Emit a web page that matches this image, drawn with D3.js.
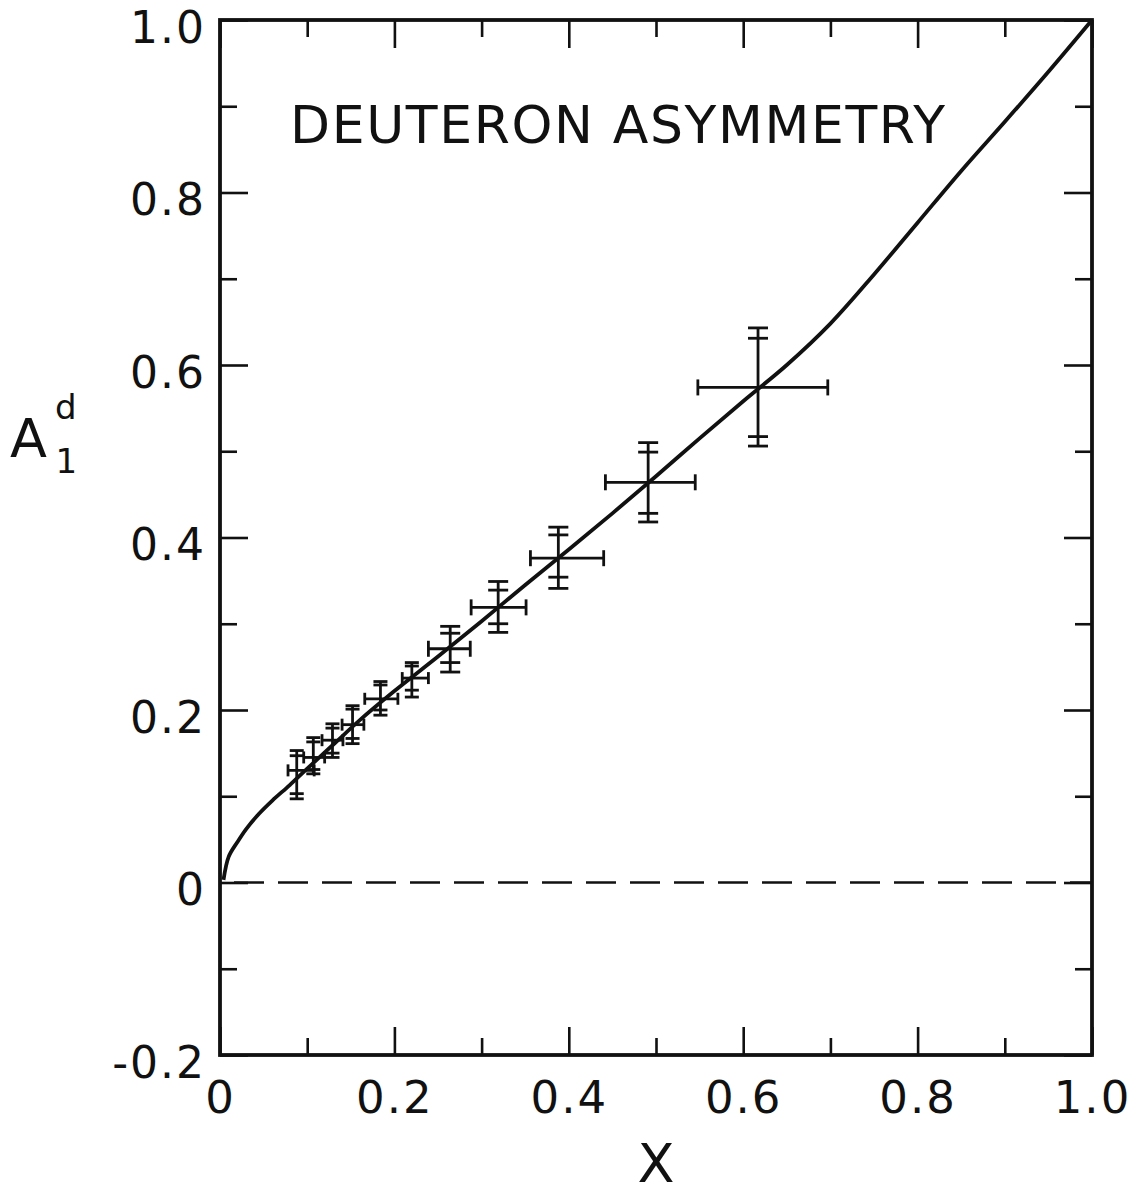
<!DOCTYPE html>
<html>
<head>
<meta charset="utf-8">
<script src="https://cdn.jsdelivr.net/npm/d3@7"></script>
<style>
  body { margin: 0; background: #fff; }
  svg { display: block; }
  text { font-family: "DejaVu Sans", sans-serif; fill: #111; }
</style>
</head>
<body>
<svg></svg>
<script>
// data points (x, A1d) with x error range and inner/outer y error ranges
const xs    = [0.088, 0.107, 0.129, 0.152, 0.184, 0.220, 0.264, 0.319, 0.388, 0.491, 0.617];
const ys    = [0.130, 0.145, 0.165, 0.183, 0.213, 0.237, 0.271, 0.319, 0.376, 0.464, 0.574];
const xLo   = [0.078, 0.096, 0.117, 0.140, 0.166, 0.209, 0.239, 0.288, 0.356, 0.442, 0.548];
const xHi   = [0.108, 0.120, 0.141, 0.165, 0.204, 0.239, 0.287, 0.351, 0.440, 0.545, 0.697];
const yInLo = [0.103, 0.131, 0.150, 0.167, 0.200, 0.223, 0.255, 0.300, 0.354, 0.428, 0.517];
const yInHi = [0.147, 0.163, 0.179, 0.201, 0.229, 0.251, 0.289, 0.339, 0.403, 0.499, 0.631];
const yOutLo = [0.097, 0.126, 0.145, 0.161, 0.194, 0.215, 0.244, 0.290, 0.341, 0.418, 0.506];
const yOutHi = [0.153, 0.168, 0.184, 0.205, 0.233, 0.255, 0.297, 0.349, 0.412, 0.510, 0.643];

// theory curve
const curveX = [0.004, 0.01, 0.02, 0.03, 0.045, 0.06, 0.08, 0.1, 0.13, 0.16, 0.2, 0.25, 0.3, 0.35, 0.4,
                0.45, 0.5, 0.55, 0.6, 0.65, 0.7, 0.75, 0.8, 0.85, 0.9, 0.95, 1.0];
const curveY = [0.003, 0.030, 0.047, 0.062, 0.080, 0.095, 0.113, 0.132, 0.160, 0.188, 0.222, 0.262, 0.303,
                0.345, 0.386, 0.428, 0.471, 0.515, 0.558, 0.600, 0.648, 0.705, 0.765, 0.825, 0.882, 0.940, 1.0];

const xMajor = [0, 0.2, 0.4, 0.6, 0.8, 1.0];
const xMajorLabels = ["0", "0.2", "0.4", "0.6", "0.8", "1.0"];
const xMinor = [0.1, 0.3, 0.5, 0.7, 0.9];
const yMajor = [-0.2, 0, 0.2, 0.4, 0.6, 0.8, 1.0];
const yMajorLabels = ["-0.2", "0", "0.2", "0.4", "0.6", "0.8", "1.0"];
const yMinor = [-0.1, 0.1, 0.3, 0.5, 0.7, 0.9];

const titleText = "DEUTERON ASYMMETRY";

let width = 1138;
let height = 1195;
let plot = { left: 220, right: 1092, top: 20, bottom: 1055 };

let svg = d3.select("svg")
    .attr("width", width)
    .attr("height", height);

let xScale = d3.scaleLinear().domain([0, 1]).range([plot.left, plot.right]);
let yScale = d3.scaleLinear().domain([-0.2, 1.0]).range([plot.bottom, plot.top]);

let drawAxes = () => {
    const major = 28, minor = 17;

    let styleAxis = (g, fs) => {
        g.select(".domain").remove();
        g.selectAll(".tick line").attr("stroke", "#111").attr("stroke-width", 2.6);
        g.selectAll(".tick text")
            .attr("font-size", fs)
            .attr("letter-spacing", 2)
            .style("font-family", "DejaVu Sans")
            .attr("fill", "#111");
    };

    // bottom
    svg.append("g")
        .attr("transform", `translate(0,${plot.bottom})`)
        .call(d3.axisBottom(xScale).tickValues(xMajor).tickSize(-major).tickPadding(26)
            .tickFormat((d, i) => xMajorLabels[i]))
        .call(styleAxis, 45);
    svg.append("g")
        .attr("transform", `translate(0,${plot.bottom})`)
        .call(d3.axisBottom(xScale).tickValues(xMinor).tickSize(-minor).tickFormat(""))
        .call(styleAxis, 45);
    // top
    svg.append("g")
        .attr("transform", `translate(0,${plot.top})`)
        .call(d3.axisTop(xScale).tickValues(xMajor).tickSize(-major).tickFormat(""))
        .call(styleAxis, 45);
    svg.append("g")
        .attr("transform", `translate(0,${plot.top})`)
        .call(d3.axisTop(xScale).tickValues(xMinor).tickSize(-minor).tickFormat(""))
        .call(styleAxis, 45);
    // left
    let yAxisG = svg.append("g")
        .attr("transform", `translate(${plot.left},0)`)
        .call(d3.axisLeft(yScale).tickValues(yMajor).tickSize(-major).tickPadding(14)
            .tickFormat((d, i) => yMajorLabels[i]))
        .call(styleAxis, 44);
    yAxisG.selectAll(".tick text").attr("dy", "0.5em");
    svg.append("g")
        .attr("transform", `translate(${plot.left},0)`)
        .call(d3.axisLeft(yScale).tickValues(yMinor).tickSize(-minor).tickFormat(""))
        .call(styleAxis, 44);
    // right
    svg.append("g")
        .attr("transform", `translate(${plot.right},0)`)
        .call(d3.axisRight(yScale).tickValues(yMajor).tickSize(-major).tickFormat(""))
        .call(styleAxis, 44);
    svg.append("g")
        .attr("transform", `translate(${plot.right},0)`)
        .call(d3.axisRight(yScale).tickValues(yMinor).tickSize(-minor).tickFormat(""))
        .call(styleAxis, 44);

    // frame
    svg.append("rect")
        .attr("x", plot.left)
        .attr("y", plot.top)
        .attr("width", plot.right - plot.left)
        .attr("height", plot.bottom - plot.top)
        .attr("fill", "none")
        .attr("stroke", "#111")
        .attr("stroke-width", 3.8);
};

let drawCurve = () => {
    // zero line
    svg.append("line")
        .attr("x1", xScale(0)).attr("x2", xScale(1))
        .attr("y1", yScale(0)).attr("y2", yScale(0))
        .attr("stroke", "#111")
        .attr("stroke-width", 2.4)
        .attr("stroke-dasharray", "30,14")
        .attr("stroke-dashoffset", -14);

    let line = d3.line()
        .x((d, i) => xScale(curveX[i]))
        .y((d, i) => yScale(curveY[i]))
        .curve(d3.curveCatmullRom);

    svg.append("path")
        .datum(curveX)
        .attr("d", line)
        .attr("fill", "none")
        .attr("stroke", "#111")
        .attr("stroke-width", 3.8);
};

let drawPoints = () => {
    let g = svg.append("g").attr("stroke", "#111").attr("stroke-width", 2.8);
    xs.forEach((x, i) => {
        let cx = xScale(x), cy = yScale(ys[i]);
        let capW = i < 6 ? 7 : 10;   // half width of vertical-bar caps
        let capH = i < 6 ? 6 : 8;    // half height of horizontal-bar caps
        // horizontal bar
        g.append("line").attr("x1", xScale(xLo[i])).attr("x2", xScale(xHi[i])).attr("y1", cy).attr("y2", cy);
        g.append("line").attr("x1", xScale(xLo[i])).attr("x2", xScale(xLo[i])).attr("y1", cy - capH).attr("y2", cy + capH);
        g.append("line").attr("x1", xScale(xHi[i])).attr("x2", xScale(xHi[i])).attr("y1", cy - capH).attr("y2", cy + capH);
        // vertical bar
        g.append("line").attr("x1", cx).attr("x2", cx).attr("y1", yScale(yOutLo[i])).attr("y2", yScale(yOutHi[i]));
        [yOutLo[i], yOutHi[i], yInLo[i], yInHi[i]].forEach(v => {
            g.append("line")
                .attr("x1", cx - capW).attr("x2", cx + capW)
                .attr("y1", yScale(v)).attr("y2", yScale(v));
        });
    });
};

let drawText = () => {
    svg.append("text")
        .attr("x", 290)
        .attr("y", 143)
        .attr("font-size", 52)
        .attr("textLength", 655)
        .attr("lengthAdjust", "spacing")
        .text(titleText);

    svg.append("text")
        .attr("x", xScale(0.5))
        .attr("y", 1182)
        .attr("text-anchor", "middle")
        .attr("font-size", 54)
        .text("X");

    let yl = svg.append("text")
        .attr("x", 10)
        .attr("y", 457)
        .attr("font-size", 54);
    yl.append("tspan").text("A");
    yl.append("tspan").attr("font-size", 34).attr("dx", 8).attr("dy", -38).text("d");
    yl.append("tspan").attr("font-size", 34).attr("dx", -21).attr("dy", 54).text("1");
};

drawAxes();
drawCurve();
drawPoints();
drawText();
</script>
</body>
</html>
